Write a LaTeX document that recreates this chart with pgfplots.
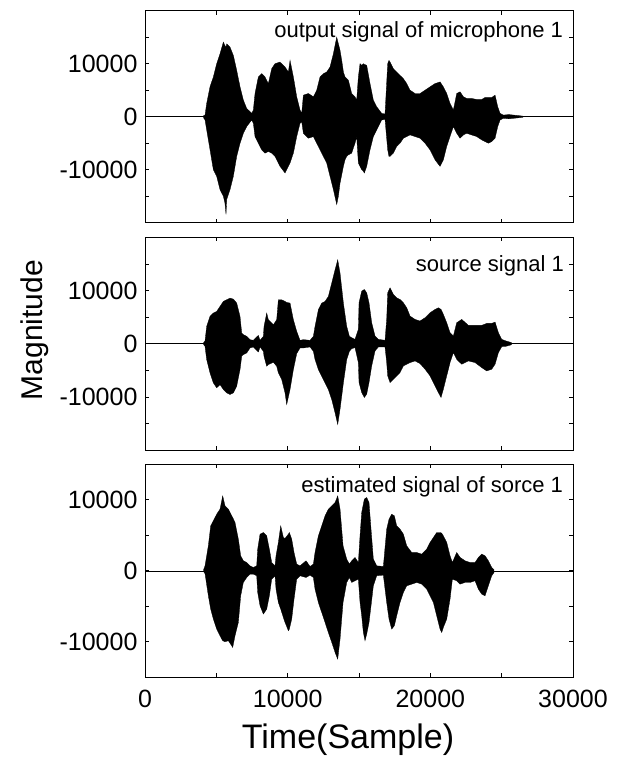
\documentclass[border=0pt]{standalone}
\usepackage{pgfplots}
\pgfplotsset{compat=1.18}
\usepackage{pgfplotstable}
\usepgfplotslibrary{fillbetween}
\usepackage{fontspec}
\setmainfont{Liberation Sans}

% envelopes (x = sample, hi = upper, lo = lower)
\pgfplotstableread{
x hi lo
4100 200 -200
4207 300 -600
4324 2500 -2500
4557 5625 -6250
4791 7500 -10000
5025 10000 -11250
5258 11875 -13750
5492 14060 -15000
5600 13440 -16250
5679 13125 -18440
5726 13750 -15625
5959 13125 -13750
6193 11560 -11250
6427 8750 -7500
6661 5625 -5000
6894 3125 -3125
7128 1560 -1875
7478 625 -625
7595 1250 -1250
7712 4375 -3750
7946 7500 -5000
8180 8125 -6250
8413 7500 -6875
8647 6250 -6560
8881 9060 -6875
9114 10000 -7500
9465 10310 -9375
9816 9375 -10625
10049 8440 -9375
10166 10625 -8750
10400 7500 -6875
10633 3750 -3750
10867 1250 -1250
10984 625 -940
11101 4060 -3125
11451 4375 -4060
11802 3750 -3750
12036 5000 -5000
12269 7500 -6250
12503 8125 -7500
12737 8440 -8750
12970 9375 -11250
13204 11875 -13750
13438 15000 -16560
13555 13750 -15000
13672 12500 -12500
13789 10625 -10940
13906 8440 -9375
14022 7500 -8125
14139 7200 -7500
14256 6875 -7200
14487 4375 -6875
14721 3750 -5000
14838 3125 -3750
14955 7500 -8750
15072 10000 -9375
15189 9690 -10000
15305 10000 -10310
15375 9875 -10625
15539 9690 -9375
15773 6250 -6250
16006 3125 -3750
16240 1875 -2500
16591 625 -625
16824 500 -500
17011 10000 -6250
17100 10625 -7500
17175 10310 -7500
17409 9060 -6875
17642 8440 -5625
17876 7810 -5000
18110 7190 -4060
18343 6250 -3750
18577 5000 -3440
18928 4375 -3750
19278 4375 -4060
19629 5000 -5000
19979 5625 -6250
20330 6250 -8125
20680 6560 -9375
20914 5625 -8125
21148 4375 -5625
21382 2500 -3750
21615 1250 -1875
21849 4375 -3125
22083 4690 -4060
22316 3750 -3440
22550 3440 -3125
22901 3440 -3440
23251 3250 -3750
23602 3250 -4375
23835 3625 -4690
24069 3625 -5000
24303 3625 -4690
24537 4060 -4060
24724 1875 -1875
24887 625 -625
25121 300 -300
25500 400 -400
26200 200 -200
26500 100 -100
}\sigA

\pgfplotstableread{
x hi lo
4100 150 -150
4207 500 -500
4324 3250 -3000
4557 5125 -5500
4791 5750 -7375
5025 6060 -8310
5258 7000 -7690
5492 7940 -8625
5726 8250 -9250
5959 8560 -9560
6193 8375 -9250
6427 7625 -8000
6661 5125 -4875
6778 2000 -2375
6894 1690 -2060
7128 1375 -1750
7361 750 -810
7595 625 -625
7946 1560 -1560
8063 625 -625
8297 1375 -1440
8343 3250 -2375
8530 5750 -4250
8647 4500 -3940
8998 3560 -3500
9231 4500 -4250
9348 8250 -5500
9582 8250 -6750
9816 7940 -9250
9932 7750 -11440
10166 7625 -8625
10400 4500 -4875
10633 2310 -1875
10867 625 -810
11101 750 -810
11568 625 -625
11802 1375 -1440
11918 3250 -3000
12152 6375 -4875
12386 7625 -6125
12620 7940 -7375
12853 8875 -8625
13087 11375 -10500
13321 13875 -13000
13508 15750 -15190
13672 13250 -12310
13906 7625 -7375
14139 3250 -3000
14326 1375 -1440
14487 1125 -940
14721 810 -750
14955 2690 -3560
15002 7690 -7310
15189 9875 -9190
15375 10190 -10125
15539 9560 -9500
15702 7690 -7310
15890 3940 -4190
16123 1440 -1375
16357 810 -625
16824 625 -625
16941 4560 -3560
17011 9560 -6060
17175 10500 -7310
17409 9250 -6690
17642 8625 -6060
17876 8310 -5440
18110 7690 -4190
18343 6750 -3875
18577 5190 -3560
18928 4560 -3250
19278 4250 -3750
19629 4875 -4810
19979 5810 -6060
20330 6440 -7940
20563 6750 -9190
20750 6440 -10125
20914 5500 -8560
21148 3940 -6060
21382 2060 -3560
21615 1440 -1690
21849 3940 -2940
22200 4560 -3875
22667 3440 -3250
23135 3440 -3560
23602 3440 -4500
23952 3810 -5125
24303 3810 -4810
24537 4060 -3875
24771 2060 -1690
25004 810 -560
25300 500 -500
25700 200 -200
}\sigB

\pgfplotstableread{
x hi lo
4100 100 -100
4207 700 -400
4440 3520 -3520
4604 6330 -5390
4791 7035 -6800
5025 7970 -8210
5258 8680 -9150
5445 10550 -9850
5609 9150 -9990
5843 8680 -9850
6076 7740 -10550
6146 7500 -10790
6310 6800 -9150
6544 4460 -7270
6707 2110 -3520
6894 1410 -1640
7128 1170 -940
7361 700 -470
7595 470 -470
7829 700 -700
7899 3050 -3050
8063 5160 -4920
8297 5390 -6100
8530 4920 -5390
8717 3050 -3520
8881 1170 -1170
9114 700 -700
9184 2110 -2580
9348 3990 -4460
9512 6330 -5390
9699 4690 -6570
9816 4550 -7270
10049 5160 -8440
10119 5390 -8210
10283 4460 -6800
10446 2580 -3990
10633 940 -1170
10867 700 -700
11288 1410 -940
11568 610 -610
11802 940 -940
11918 2580 -2580
12152 4920 -4460
12386 6330 -5860
12620 7740 -7270
12853 8680 -8680
13087 9150 -10080
13321 9610 -11490
13508 10550 -12430
13672 8680 -9610
13882 3520 -4460
14139 1640 -1640
14326 940 -940
14487 1410 -1640
14721 1880 -1410
14955 1170 -1170
15072 4920 -4460
15189 8210 -6330
15305 9380 -8680
15375 10080 -9380
15422 10180 -9850
15539 10320 -8910
15702 9610 -7270
15843 5860 -4920
16006 1640 -2110
16240 700 -700
16707 610 -610
16941 5860 -4460
17104 7270 -6800
17292 7970 -8210
17479 7740 -7740
17642 6330 -6330
17876 5860 -4460
18110 5160 -3050
18343 3520 -2110
18694 2580 -1880
19044 2580 -1640
19395 2345 -1880
19746 3050 -2580
19979 3990 -3520
20213 4690 -4460
20446 5390 -6330
20680 5390 -8210
20797 5300 -8680
20914 4920 -7970
21148 3990 -6800
21382 2110 -3990
21545 1170 -1170
21849 2580 -1410
22083 1880 -1880
22433 1410 -1640
22784 1170 -1640
23135 1170 -1410
23368 1880 -2580
23602 2345 -3280
23835 2110 -3520
24069 1410 -2110
24303 470 -700
24467 140 -230
}\sigC

\pgfplotsset{
  panel/.style={
    scale only axis,
    width=428pt,
    xmin=0, xmax=30000,
    scaled ticks=false,
    xtick={0,5000,10000,15000,20000,25000,30000},
    ytick={-15000,-10000,-5000,0,5000,10000,15000},
    yticklabels={,-10000,,0,,10000,},
    xticklabels={},
    tick align=inside,
    major tick length=4pt,
    xtick pos=both, ytick pos=both,
    axis line style={line width=0.8pt},
    every tick/.style={black, line width=0.6pt},
    tick label style={font=\fontsize{25}{29}\selectfont},
    yticklabel style={xshift=-4pt},
  },
}
\tikzset{lbl/.style={anchor=east, inner sep=0pt, font=\fontsize{22}{25}\selectfont}}

\begin{document}
\begin{tikzpicture}

\begin{axis}[panel, at={(145pt,537.3pt)}, anchor=south west,
  height=212pt, ymin=-20000, ymax=20000]
  \addplot[black, line width=0.5pt] coordinates {(0,0) (30000,0)};
  \addplot[name path=u, draw=black, line width=0.3pt] table[x=x, y=hi]{\sigA};
  \addplot[name path=l, draw=black, line width=0.3pt] table[x=x, y=lo]{\sigA};
  \addplot[black] fill between[of=u and l];
  \node[lbl] at (rel axis cs:0.977,0.9) {output signal of microphone 1};
\end{axis}

\begin{axis}[panel, at={(145pt,310pt)}, anchor=south west,
  height=212.7pt, ymin=-20000, ymax=20000]
  \addplot[black, line width=0.5pt] coordinates {(0,0) (30000,0)};
  \addplot[name path=u, draw=black, line width=0.3pt] table[x=x, y=hi]{\sigB};
  \addplot[name path=l, draw=black, line width=0.3pt] table[x=x, y=lo]{\sigB};
  \addplot[black] fill between[of=u and l];
  \node[lbl] at (rel axis cs:0.979,0.864) {source signal 1};
\end{axis}

\begin{axis}[panel, at={(145pt,82.7pt)}, anchor=south west,
  height=213pt, ymin=-15000, ymax=15000,
  xticklabels={0,,10000,,20000,,30000},
  xticklabel style={yshift=-9pt}]
  \addplot[black, line width=0.5pt] coordinates {(0,0) (30000,0)};
  \addplot[name path=u, draw=black, line width=0.3pt] table[x=x, y=hi]{\sigC};
  \addplot[name path=l, draw=black, line width=0.3pt] table[x=x, y=lo]{\sigC};
  \addplot[black] fill between[of=u and l];
  \node[lbl] at (rel axis cs:0.977,0.895) {estimated signal of sorce 1};
\end{axis}

\node[rotate=90, font=\fontsize{30}{34}\selectfont] at (35pt,430pt) {Magnitude};
\node[font=\fontsize{34}{38}\selectfont] at (348pt,20pt) {Time(Sample)};
\path (0pt,0pt) rectangle (625pt,760pt);
\end{tikzpicture}
\end{document}
